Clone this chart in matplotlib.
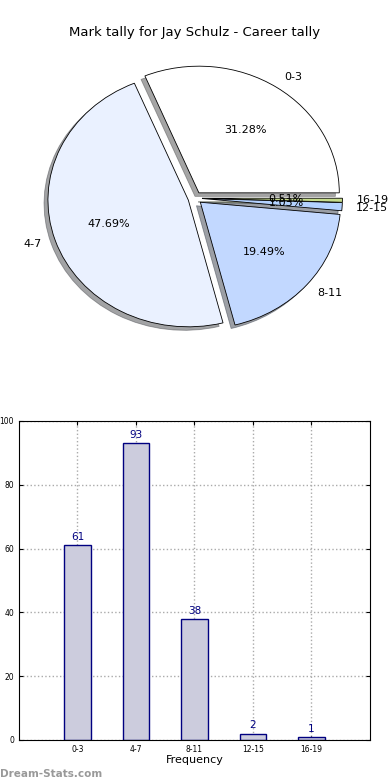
import matplotlib
matplotlib.use('Agg')
import matplotlib.pyplot as plt

categories = ['0-3', '4-7', '8-11', '12-15', '16-19']
counts = [61, 93, 38, 2, 1]
pie_colors = ['#ffffff', '#eaf1ff', '#c2d8ff', '#b4d2ff', '#c6dc8c']
y_ticks = [0, 20, 40, 60, 80, 100]

fig = plt.figure(figsize=(3.9, 7.8), dpi=100)

# pie on top
ax1 = fig.add_axes([0.05, 0.543, 0.9, 0.406])
wedges, texts, autotexts = ax1.pie(counts, labels=categories, colors=pie_colors,
                                   explode=[0.05] * 5, autopct='%1.2f%%',
                                   shadow=True, startangle=0, pctdistance=0.6,
                                   labeldistance=1.1,
                                   wedgeprops={'edgecolor': 'black', 'linewidth': 0.6},
                                   textprops={'fontsize': 8})
ax1.set_aspect('auto')
ax1.set_xlim(-1.25, 1.25)
ax1.set_ylim(-1.25, 1.25)
ax1.set_title('Mark tally for Jay Schulz - Career tally', fontsize=9.5, pad=3)

# bar chart below
ax2 = fig.add_axes([0.0487, 0.0513, 0.9, 0.409])
xpos = range(len(categories))
bars = ax2.bar(xpos, counts, width=0.45, color='#ccccdd', edgecolor='navy', linewidth=1, zorder=2)
for x, v in zip(xpos, counts):
    ax2.text(x, v + 1, str(v), ha='center', va='bottom', color='navy', fontsize=7.5)
ax2.set_xlim(-1, 5)
ax2.set_ylim(0, 100)
ax2.set_xticks(list(xpos))
ax2.set_xticklabels(categories)
ax2.set_yticks(y_ticks)
ax2.tick_params(labelsize=5.5, direction='in', length=3, top=True, right=True)
ax2.grid(True, linestyle=':', color='#aaaaaa', linewidth=1, zorder=0)
ax2.set_axisbelow(True)
ax2.set_xlabel('Frequency', fontsize=8, labelpad=1)

fig.text(0.0, 0.004, 'Dream-Stats.com', fontsize=7.5, color='#999999', fontweight='bold')

plt.savefig('out.png', dpi=100)
